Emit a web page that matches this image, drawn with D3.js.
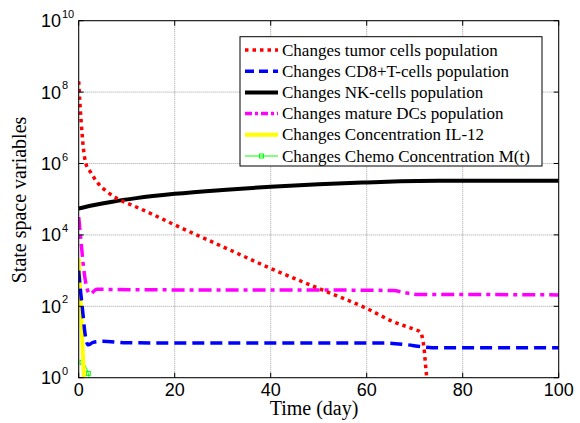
<!DOCTYPE html>
<html>
<head>
<meta charset="utf-8">
<script src="https://cdn.jsdelivr.net/npm/d3@7"></script>
<style>
  body { margin: 0; background: #fff; }
  svg { display: block; }
</style>
</head>
<body>
<svg id="svg"></svg>
<script>
// values, y as log10 exponents
const tumorT = [0, 0.25, 0.5, 1, 1.5, 2.5, 4, 6, 8, 11, 15, 20, 30, 40, 50, 60, 65.5, 70, 71.1, 71.9, 72.3, 72.7];
const tumorE = [8.3, 7.7, 7.2, 6.4, 6.0, 5.75, 5.45, 5.2, 5.02, 4.84, 4.6, 4.28, 3.67, 3.06, 2.5, 1.94, 1.57, 1.35, 1.29, 0.87, 0.3, -0.3];

const cd8T = [0, 0.4, 0.8, 1.3, 2, 3, 5, 10, 20, 40, 60, 64, 68, 72, 75, 100];
const cd8E = [3.0, 2.4, 1.9, 1.25, 0.92, 0.99, 1.02, 0.98, 0.97, 0.97, 0.97, 0.97, 0.93, 0.86, 0.84, 0.84];

const nkT = [0, 3, 7, 12, 20, 30, 40, 50, 60, 67, 75, 85, 100];
const nkE = [4.74, 4.83, 4.93, 5.03, 5.15, 5.26, 5.35, 5.42, 5.47, 5.5, 5.515, 5.52, 5.52];

const dcT = [0, 0.5, 1, 1.7, 2.35, 3.75, 6, 20, 40, 60, 65.5, 68, 71, 75, 100];
const dcE = [4.5, 3.8, 3.1, 2.51, 2.34, 2.48, 2.47, 2.46, 2.46, 2.45, 2.44, 2.38, 2.33, 2.33, 2.32];

const il12T = [0, 0.5, 1.1, 1.4];
const il12E = [3.34, 1.8, 0, -0.7];

const chemoT = [0.7, 2.0, 2.6];
const chemoE = [0.43, 0.12, -0.3];

const xTicks = [0, 20, 40, 60, 80, 100];
const yTicks = [0, 2, 4, 6, 8, 10];

const legendLabels = [
  "Changes tumor cells population",
  "Changes CD8+T-cells population",
  "Changes NK-cells population",
  "Changes mature DCs population",
  "Changes Concentration IL-12",
  "Changes Chemo Concentration M(t)"
];

const width = 580, height = 423;
const pLeft = 78.7, pRight = 558.7, pTop = 20.7, pBottom = 377.7;

const svg = d3.select("#svg").attr("width", width).attr("height", height);

const x = d3.scaleLinear().domain([0, 100]).range([pLeft, pRight]);
const y = d3.scaleLog().domain([1, 1e10]).range([pBottom, pTop]);

const toPoints = (ts, es) => ts.map((t, i) => ({ t: t, v: Math.pow(10, es[i]) }));

const series = [
  { pts: toPoints(tumorT, tumorE), color: "#ff0000", width: 3.5, dash: "3.5,4", legDash: "3.5,4" },
  { pts: toPoints(cd8T, cd8E), color: "#0000ff", width: 3.5, dash: "12,6", legDash: "9,5" },
  { pts: toPoints(nkT, nkE), color: "#000000", width: 4, dash: null, legDash: null },
  { pts: toPoints(dcT, dcE), color: "#ff00ff", width: 3.5, dash: "13,5,4,5", legDash: "7,3,3,3" },
  { pts: toPoints(il12T, il12E), color: "#ffff00", width: 4, dash: null, legDash: null },
  { pts: toPoints(chemoT, chemoE), color: "#00ff00", width: 1, dash: null, legDash: null, marker: true }
];

// grid
const grid = svg.append("g").attr("stroke", "#8a8a8a").attr("stroke-width", 0.8).attr("stroke-dasharray", "1,1");
xTicks.forEach(t => {
  grid.append("line").attr("x1", x(t)).attr("x2", x(t)).attr("y1", pTop).attr("y2", pBottom);
});
yTicks.forEach(e => {
  const yy = y(Math.pow(10, e));
  grid.append("line").attr("x1", pLeft).attr("x2", pRight).attr("y1", yy).attr("y2", yy);
});

// clip the curves to the plot box
svg.append("clipPath").attr("id", "plot")
  .append("rect").attr("x", pLeft).attr("y", pTop).attr("width", pRight - pLeft).attr("height", pBottom - pTop);

const line = d3.line()
  .x(d => x(d.t))
  .y(d => y(d.v))
  .curve(d3.curveMonotoneX);

const curves = svg.append("g").attr("clip-path", "url(#plot)");

// draw in reverse so tumor ends up on top
series.slice().reverse().forEach(s => {
  curves.append("path")
    .attr("d", line(s.pts))
    .attr("fill", "none")
    .attr("stroke", s.color)
    .attr("stroke-width", s.width)
    .attr("stroke-dasharray", s.dash);
  if (s.marker) {
    curves.selectAll(null)
      .data(s.pts)
      .enter()
      .append("rect")
      .attr("x", d => x(d.t) - 2)
      .attr("y", d => y(d.v) - 2)
      .attr("width", 4)
      .attr("height", 4)
      .attr("fill", "none")
      .attr("stroke", s.color)
      .attr("stroke-width", 1);
  }
});

// box and inward ticks
svg.append("rect")
  .attr("x", pLeft).attr("y", pTop)
  .attr("width", pRight - pLeft).attr("height", pBottom - pTop)
  .attr("fill", "none").attr("stroke", "#000").attr("stroke-width", 1);

const ticks = svg.append("g").attr("stroke", "#000").attr("stroke-width", 1);
xTicks.forEach(t => {
  ticks.append("line").attr("x1", x(t)).attr("x2", x(t)).attr("y1", pBottom).attr("y2", pBottom - 5);
  ticks.append("line").attr("x1", x(t)).attr("x2", x(t)).attr("y1", pTop).attr("y2", pTop + 5);
});
yTicks.forEach(e => {
  const yy = y(Math.pow(10, e));
  ticks.append("line").attr("x1", pLeft).attr("x2", pLeft + 5).attr("y1", yy).attr("y2", yy);
  ticks.append("line").attr("x1", pRight).attr("x2", pRight - 5).attr("y1", yy).attr("y2", yy);
});

// tick labels
svg.append("g")
  .selectAll("text")
  .data(xTicks)
  .enter()
  .append("text")
  .attr("x", d => x(d))
  .attr("y", 396)
  .attr("text-anchor", "middle")
  .attr("font-family", "Liberation Sans, Arial, sans-serif")
  .attr("font-size", 18)
  .text(d => d);

const yl = svg.append("g")
  .attr("font-family", "Liberation Sans, Arial, sans-serif");
yTicks.forEach(e => {
  const yy = y(Math.pow(10, e));
  yl.append("text")
    .attr("x", 61).attr("y", yy + 6.5)
    .attr("text-anchor", "end")
    .attr("font-size", 18)
    .text("10");
  yl.append("text")
    .attr("x", 62).attr("y", yy - 3)
    .attr("font-size", 11)
    .text(e);
});

// axis titles
svg.append("text")
  .attr("x", 314).attr("y", 415)
  .attr("text-anchor", "middle")
  .attr("font-family", "Liberation Serif, Times New Roman, serif")
  .attr("font-size", 20)
  .text("Time (day)");

svg.append("text")
  .attr("transform", "translate(26,200) rotate(-90)")
  .attr("text-anchor", "middle")
  .attr("font-family", "Liberation Serif, Times New Roman, serif")
  .attr("font-size", 20)
  .text("State space variables");

// legend
const legend = svg.append("g");
legend.append("rect")
  .attr("x", 240).attr("y", 36.7)
  .attr("width", 302).attr("height", 129.3)
  .attr("fill", "#fff").attr("stroke", "#000").attr("stroke-width", 1);

series.forEach((s, i) => {
  const ly = 50 + i * 21.2;
  legend.append("line")
    .attr("x1", 245).attr("x2", 278)
    .attr("y1", ly).attr("y2", ly)
    .attr("stroke", s.color)
    .attr("stroke-width", s.width)
    .attr("stroke-dasharray", s.legDash);
  if (s.marker) {
    legend.append("rect")
      .attr("x", 259.5).attr("y", ly - 2)
      .attr("width", 4).attr("height", 4)
      .attr("fill", "none").attr("stroke", s.color);
  }
  legend.append("text")
    .attr("x", 282).attr("y", ly + 5.5)
    .attr("font-family", "Liberation Serif, Times New Roman, serif")
    .attr("font-size", 17)
    .text(legendLabels[i]);
});
</script>
</body>
</html>
